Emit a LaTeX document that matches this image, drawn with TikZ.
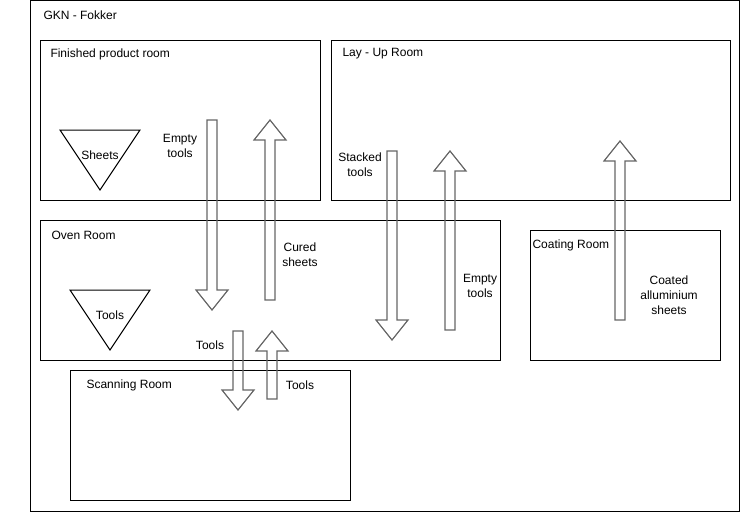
\documentclass[tikz,border=0pt]{standalone}
\usepackage{fontspec}
\setmainfont{Liberation Sans}
\usetikzlibrary{calc}
\definecolor{cgrey}{HTML}{666666}
\tikzset{
  every picture/.style={line width=1pt},
  room/.style={draw=black, rectangle, anchor=north west, inner sep=0pt},
  roomname/.style={anchor=west, inner sep=0pt, font=\fontsize{12pt}{15pt}\selectfont},
  note/.style={align=center, inner sep=0pt, font=\fontsize{12pt}{15pt}\selectfont},
  flow/.style={draw=cgrey, line width=1.2pt, line join=miter},
}
% vertical block arrow from tail (#1) to tip (#2)
\newcommand{\flowarrow}[2]{%
  \draw[flow] let \p1=(#1), \p2=(#2), \n1={ifthenelse(\y2>\y1,1,-1)} in
    (\x1-5pt,\y1) -- (\x1-5pt,{\y2-\n1*20pt}) -- (\x1-16pt,{\y2-\n1*20pt}) -- (\x2,\y2)
    -- (\x1+16pt,{\y2-\n1*20pt}) -- (\x1+5pt,{\y2-\n1*20pt}) -- (\x1+5pt,\y1) -- cycle;}

\begin{document}
\begin{tikzpicture}[x=1pt, y=-1pt]
  \useasboundingbox (0,0) rectangle (741,511);
  % rooms
  \node[room, minimum width=709, minimum height=510] (gkn) at (30,0.5) {};
  \node[room, minimum width=280, minimum height=160] (fin) at (40,40) {};
  \node[room, minimum width=399, minimum height=160] (lay) at (331,40) {};
  \node[room, minimum width=460, minimum height=140] (oven) at (40,220) {};
  \node[room, minimum width=190, minimum height=130] (coat) at (530,230) {};
  \node[room, minimum width=280, minimum height=130] (scan) at (70,370) {};
  \node[roomname] at ([shift={(13,15)}]gkn.north west) {GKN - Fokker};
  \node[roomname] at ([shift={(10,14)}]fin.north west) {Finished product room};
  \node[roomname] at ([shift={(11,14)}]lay.north west) {Lay - Up Room};
  \node[roomname] at ([shift={(11,15)}]oven.north west) {Oven Room};
  \node[roomname] at ([shift={(2,15)}]coat.north west) {Coating Room};
  \node[roomname] at ([shift={(16,15)}]scan.north west) {Scanning Room};
  % stock
  \draw (60,130) -- (140,130) -- (100,190) -- cycle;
  \node[note] (sheets) at (100,155) {Sheets};
  \draw (70,290) -- (150,290) -- (110,350) -- cycle;
  \node[note] (tools) at (110,315) {Tools};
  % flows
  \coordinate (emp1) at (212,120);   \coordinate (emp2) at (212,310);
  \coordinate (cur1) at (270,300);   \coordinate (cur2) at (270,120);
  \coordinate (scn1) at (238,331);   \coordinate (scn2) at (238,410);
  \coordinate (ret1) at (272,399);   \coordinate (ret2) at (272,331);
  \coordinate (stk1) at (392,151);   \coordinate (stk2) at (392,340);
  \coordinate (ety1) at (450,330);   \coordinate (ety2) at (450,151);
  \coordinate (cot1) at (620,320);   \coordinate (cot2) at (620,141);
  \flowarrow{emp1}{emp2}
  \flowarrow{cur1}{cur2}
  \flowarrow{scn1}{scn2}
  \flowarrow{ret1}{ret2}
  \flowarrow{stk1}{stk2}
  \flowarrow{ety1}{ety2}
  \flowarrow{cot1}{cot2}
  \node[note] (emptyA) at (180,146) {Empty\\tools};
  \node[note] (cured) at (300,255) {Cured\\sheets};
  \node[note] (toolsA) at (210,345) {Tools};
  \node[note] (toolsB) at (300,385) {Tools};
  \node[note] (stacked) at (360,165) {Stacked\\tools};
  \node[note] (emptyB) at (480,286) {Empty\\tools};
  \node[note] (coated) at (669,295) {Coated\\alluminium\\sheets};
\end{tikzpicture}
\end{document}
